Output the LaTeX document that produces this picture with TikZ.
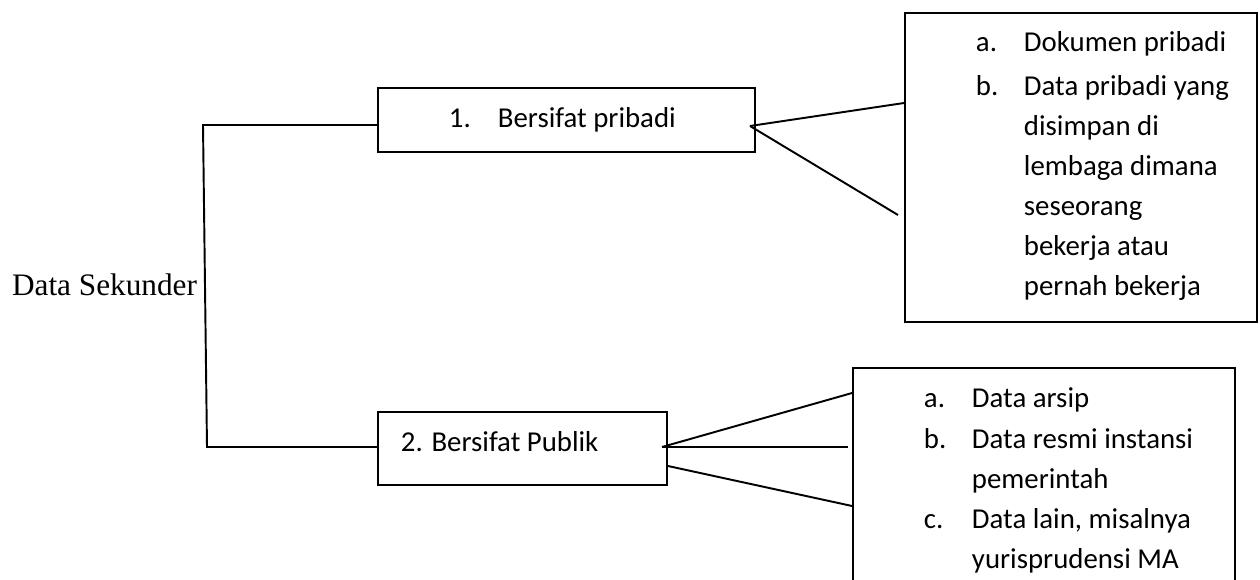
\documentclass[tikz,border=0pt]{standalone}
\usepackage{fontspec}
\setmainfont{Carlito}
\newfontfamily\timesfont{Liberation Serif}

\begin{document}
\begin{tikzpicture}[x=0.02cm, y=-0.02cm, line width=1.1pt,
  itembox/.style={draw, rectangle, inner sep=0pt},
  itemtext/.style={anchor=base west, inner sep=0pt, font=\fontsize{16.4}{20}\selectfont}]
\useasboundingbox (0,0) rectangle (1260,580);
\clip (0,0) rectangle (1260,580);
% root label
\node[anchor=base east, inner sep=0pt, font=\timesfont\fontsize{17.8}{21}\selectfont] (root) at (198,296) {Data Sekunder};
% first level boxes
\node[itembox, minimum width=7.54cm, minimum height=1.28cm] (pribadi) at (566.5,120) {};
\node[itemtext] (pribaditxt) at (448,128) {\makebox[0.98cm][l]{1.}Bersifat pribadi};
\node[itembox, minimum width=5.78cm, minimum height=1.46cm] (publik) at (522.5,448.5) {};
\node[itemtext] (publiktxt) at (400,451) {2. Bersifat Publik};
% trunk
\coordinate (top) at (203,125);
\coordinate (bot) at (207,447);
\draw (pribadi.west |- top) -- (top) -- (bot) -- (publik.west |- bot);
% detail boxes
\node[itembox, minimum width=7.04cm, minimum height=6.18cm] (rinci1) at (1081,167.5) {};
\node[itembox, minimum width=7.64cm, minimum height=5.04cm] (rinci2) at (1044,494) {};
\foreach \lbl/\yy [count=\i] in {a./52, b./96}
  \node[itemtext] (lbla\i) at (975,\yy) {\lbl};
\foreach \txt/\yy [count=\i] in {Dokumen pribadi/52, Data pribadi yang/96, disimpan di/136,
    lembaga dimana/176, seseorang/216, bekerja atau/256, pernah bekerja/296}
  \node[itemtext] (txta\i) at (1023,\yy) {\txt};
\foreach \lbl/\yy [count=\i] in {a./408, b./448, c./528}
  \node[itemtext] (lblb\i) at (923,\yy) {\lbl};
\foreach \txt/\yy [count=\i] in {Data arsip/408, Data resmi instansi/448, pemerintah/488,
    {Data lain, misalnya}/528, yurisprudensi MA/568}
  \node[itemtext] (txtb\i) at (971,\yy) {\txt};
% connectors
\coordinate (j1) at (750,126);
\coordinate (e1) at (898,215);
\draw (j1) -- (rinci1.west |- 0,103);
\draw (j1) -- (e1);
\coordinate (j2) at (662,447);
\coordinate (e2) at (848,447);
\draw (j2) -- (rinci2.west |- 0,393);
\draw (j2) -- (e2);
\draw (publik.east |- 0,466) -- (rinci2.west |- 0,506);
\end{tikzpicture}
\end{document}
